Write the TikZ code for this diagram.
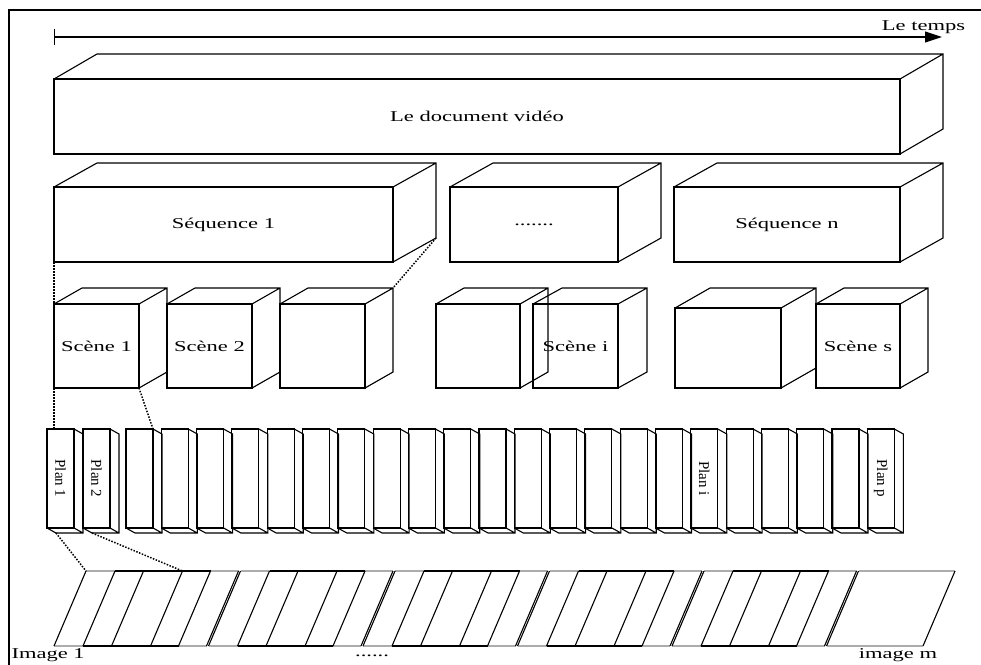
\documentclass[tikz,border=0pt]{standalone}
\usepackage{fontspec}
\setmainfont{Liberation Serif}[FakeStretch=1.5]
\newfontfamily\planfont{Liberation Serif}
\usetikzlibrary{arrows.meta,calc}
\tikzset{>=stealth,
  lab/.style={font=\fontsize{15}{18}\selectfont, inner sep=0pt},
  facebox/.style={lab, draw, outer sep=0pt},
  planbox/.style={draw, inner sep=0pt, outer sep=0pt, minimum width=27pt, minimum height=99pt, font=\planfont\fontsize{15}{18}\selectfont},
  linkdots/.style={line width=1.5pt, dash pattern=on 1.5pt off 1.5pt},
  frameline/.style={line width=2.6pt},
  pale/.style={gray!65}}
\newcommand\topdepth[3]{%
  \draw (#1.north west) -- ++(#2,#3) coordinate (#1 bnw) -- ($(#1.north east)+(#2,#3)$) coordinate (#1 bne)
    -- ($(#1.south east)+(#2,#3)$) coordinate (#1 bse) -- (#1.south east) (#1.north east) -- (#1 bne);}
\newcommand\lowdepth[3]{%
  \draw (#1.north east) -- ++(#2,#3) coordinate (#1 bne) -- ($(#1.south east)+(#2,#3)$) coordinate (#1 bse)
    -- ($(#1.south west)+(#2,#3)$) coordinate (#1 bsw) -- (#1.south west) (#1.south east) -- (#1 bse);}

\begin{document}
\begin{tikzpicture}[x=1pt, y=-1pt, line width=1.1pt]
    \useasboundingbox (0,0) rectangle (981,664);
    \draw[frameline] (9,680) -- (9,10) -- (1000,10);

    \coordinate (t0) at (54,37);
    \coordinate (t1) at (942,37);
    \draw[{Bar[width=16pt]}-{Triangle[length=17pt,width=11pt]}] (t0) -- (t1);
    \node[lab] (temps) at (923.5,27) {Le temps};

    \node[facebox, minimum width=846pt, minimum height=75pt] (doc) at (477,116.5) {Le document vidéo};
    \topdepth{doc}{43}{-25}

    \node[facebox, minimum width=168pt, minimum height=75pt] (seqdots) at (534,224.5) {.......};
    \topdepth{seqdots}{43}{-24}
    \foreach \nm/\cx/\bw/\txt in {seq1/223.5/339/Séquence 1, seqn/787/226/Séquence n}{
        \node[facebox, minimum width=\bw pt, minimum height=75pt] (\nm) at (\cx,224.5) {\txt};
        \topdepth{\nm}{43}{-24}
    }

    \foreach \nm/\cx/\cy/\bw/\bh/\dx/\dy/\txt in {
        scene1/96.5/346/85/84/28/-16/Scène 1, scene2/209.5/346/85/84/28/-16/Scène 2,
        scene3/322.5/346/85/84/28/-16/, scene4/478/346/84/84/28/-16/,
        scene5/575.5/346/85/84/29/-16/Scène i, scene6/728/348/106/80/35/-20/,
        scene7/858/346/84/84/28/-16/Scène s}{
        \node[facebox, minimum width=\bw pt, minimum height=\bh pt] (\nm) at (\cx,\cy) {\txt};
        \topdepth{\nm}{\dx}{\dy}
    }

    \node[planbox] (plan1) at (60.5,478.5) {\rotatebox{-90}{Plan 1}};
    \lowdepth{plan1}{9}{5}
    \node[planbox] (plan2) at (96.5,478.5) {\rotatebox{-90}{Plan 2}};
    \lowdepth{plan2}{9}{5}
    \foreach \i in {3,...,24}{
        \pgfmathsetmacro\cx{139.5+35.3*(\i-3)}
        \node[planbox] (plan\i) at (\cx,478.5) {\ifnum\i=19 \rotatebox{-90}{Plan i}\fi\ifnum\i=24 \rotatebox{-90}{Plan p}\fi};
        \lowdepth{plan\i}{9}{5}
    }

    \foreach \g in {0,...,4}{
        \pgfmathsetmacro\s{86+154.5*\g}
        \draw[pale] (\s,571) -- ++(29,0) (\s-32,646) -- ++(29,0)
            (\s+124.5,571) -- ++(28,0) (\s+92.5,646) -- ++(28,0);
        \draw (\s+29,571) -- ++(95.5,0) (\s-3,646) -- ++(95.5,0);
        \foreach \b in {0,29,57.5,96.5,124.5,152.5}
            \draw (\s+\b,571) -- (\s+\b-32,646);
    }
    \draw[pale] (858.5,571) -- (955,571) (826.5,646) -- (923,646);
    \draw (858.5,571) -- (826.5,646) (955,571) -- (923,646);
    \coordinate (img1) at (86,571);
    \coordinate (img4) at (182.5,571);

    \node[lab, anchor=west] (firstimg) at (11,655) {Image 1};
    \node[lab] (imgdots) at (372,656) {......};
    \node[lab] (lastimg) at (898,655) {image m};

    \draw[linkdots] (seq1.south west) -- (scene1.north west);
    \draw[linkdots] (seq1 bse) -- (scene3 bne);
    \draw[linkdots] (scene1.south west) -- (scene1.south west |- plan1.north);
    \draw[linkdots] (scene1.south east) -- (plan3.north east);
    \draw[linkdots] (plan1 bsw) -- (img1);
    \draw[linkdots] (plan2 bsw) -- (img4);
\end{tikzpicture}
\end{document}
